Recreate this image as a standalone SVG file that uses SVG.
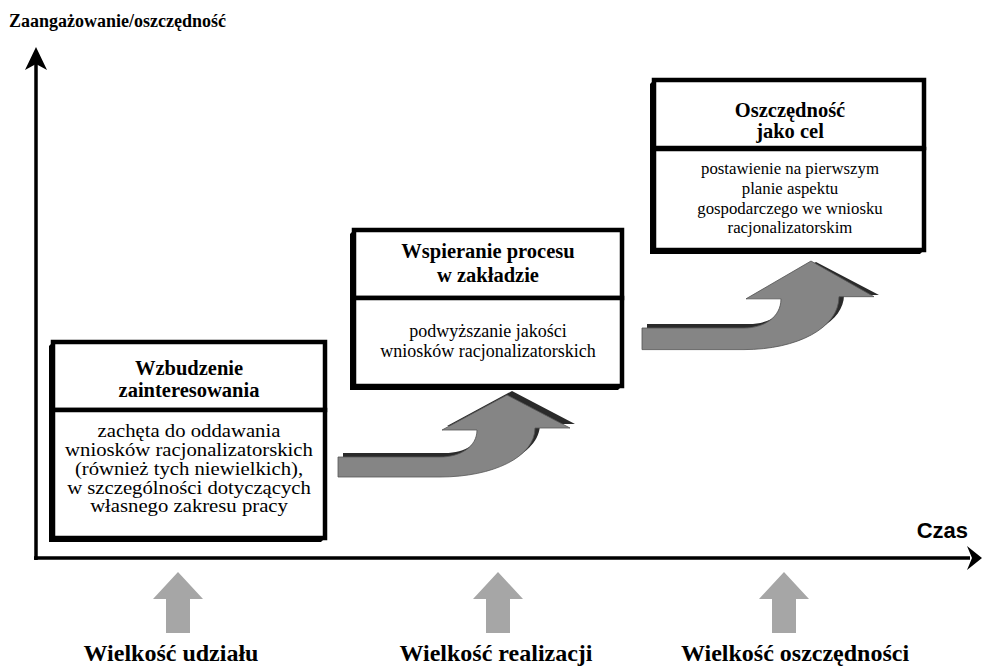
<svg xmlns="http://www.w3.org/2000/svg" width="982" height="668" viewBox="0 0 982 668">
<style>
.ttl{font-family:"Liberation Serif","Times New Roman",serif;font-weight:bold;font-size:20.5px;text-anchor:middle;fill:#000}
.bd1{font-family:"Liberation Serif","Times New Roman",serif;font-size:18.5px;text-anchor:middle;fill:#000}
.bd2{font-family:"Liberation Serif","Times New Roman",serif;font-size:18px;text-anchor:middle;fill:#000}
.bd3{font-family:"Liberation Serif","Times New Roman",serif;font-size:16.8px;text-anchor:middle;fill:#000}
.lbl{font-family:"Liberation Serif","Times New Roman",serif;font-weight:bold;font-size:24px;text-anchor:middle;fill:#000}
.box{fill:#fff;stroke:#000;stroke-width:4.5}
.ext{fill:#000}
.arr{fill:#858585;stroke:#555;stroke-width:0.8}
.arrd{fill:#2a2a2a}
.up{fill:#a6a6a6}
.axis{stroke:#000;stroke-width:3.5;fill:none}
</style>
<defs>
<path id="curv" d="M0,0 L102,0 C122,0 139,-10 139,-27 L104,-27 L169,-62 L232,-29 L197,-29 C197,0 155,20 102,20 L0,20 Z"/>
<polygon id="uparr" points="0,0 25,27 12,27 12,61 -12,61 -12,27 -25,27"/>
</defs>

<text x="9" y="27" style="font-family:'Liberation Serif','Times New Roman',serif;font-weight:bold;font-size:18px;fill:#000">Zaangażowanie/oszczędność</text>

<g id="axes">
<line class="axis" x1="36" y1="62" x2="36" y2="560"/>
<line class="axis" x1="34" y1="558" x2="970" y2="558"/>
<polygon points="36,47 47,70 36,64 25,70" fill="#000"/>
<polygon points="982,558 967,546 972,558 967,570" fill="#000"/>
</g>
<text x="968" y="538" style="font-family:'Liberation Sans',Arial,sans-serif;font-weight:bold;font-size:22px;text-anchor:end;fill:#000">Czas</text>

<g id="connectors">
<g transform="translate(338,457)">
<use href="#curv" class="arrd" transform="translate(5,-4)"/>
<use href="#curv" class="arr"/>
</g>
<g transform="translate(642,328)">
<use href="#curv" class="arrd" transform="translate(5,-4)"/>
<use href="#curv" class="arr" transform="scale(1,1.08)"/>
</g>
</g>

<g id="box1">
<polygon class="ext" points="53,342 49,346 49,542 321,542 325,538 53,538"/>
<rect class="box" x="53" y="342" width="272" height="68"/>
<rect class="box" x="53" y="410" width="272" height="128"/>
<text class="ttl" x="189" y="375">Wzbudzenie</text>
<text class="ttl" x="189" y="397">zainteresowania</text>
<text class="bd1" transform="translate(189,437) scale(1.12,1)">zachęta do oddawania</text>
<text class="bd1" transform="translate(189,456) scale(1.12,1)">wniosków racjonalizatorskich</text>
<text class="bd1" transform="translate(189,475) scale(1.12,1)">(również tych niewielkich),</text>
<text class="bd1" transform="translate(189,494) scale(1.12,1)">w szczególności dotyczących</text>
<text class="bd1" transform="translate(189,512) scale(1.12,1)">własnego zakresu pracy</text>
</g>

<g id="box2">
<polygon class="ext" points="354,230 350,234 350,390 618,390 622,386 354,386"/>
<rect class="box" x="354" y="230" width="268" height="68"/>
<rect class="box" x="354" y="298" width="268" height="88"/>
<text class="ttl" x="488" y="258">Wspieranie procesu</text>
<text class="ttl" x="488" y="282">w zakładzie</text>
<text class="bd2" x="488" y="337">podwyższanie jakości</text>
<text class="bd2" x="488" y="357">wniosków racjonalizatorskich</text>
</g>

<g id="box3">
<polygon class="ext" points="654,80 650,84 650,254 920,254 924,250 654,250"/>
<rect class="box" x="654" y="80" width="270" height="68"/>
<rect class="box" x="654" y="149" width="270" height="101"/>
<text class="ttl" x="790" y="117">Oszczędność</text>
<text class="ttl" x="790" y="138">jako cel</text>
<text class="bd3" x="790" y="174">postawienie na pierwszym</text>
<text class="bd3" x="790" y="194">planie aspektu</text>
<text class="bd3" x="790" y="214">gospodarczego we wniosku</text>
<text class="bd3" x="790" y="233">racjonalizatorskim</text>
</g>

<g id="measures">
<use href="#uparr" class="up" transform="translate(178,572)"/>
<use href="#uparr" class="up" transform="translate(498,572)"/>
<use href="#uparr" class="up" transform="translate(784,572)"/>
<text class="lbl" x="171" y="661">Wielkość udziału</text>
<text class="lbl" x="496" y="661">Wielkość realizacji</text>
<text class="lbl" x="795" y="661">Wielkość oszczędności</text>
</g>
</svg>
